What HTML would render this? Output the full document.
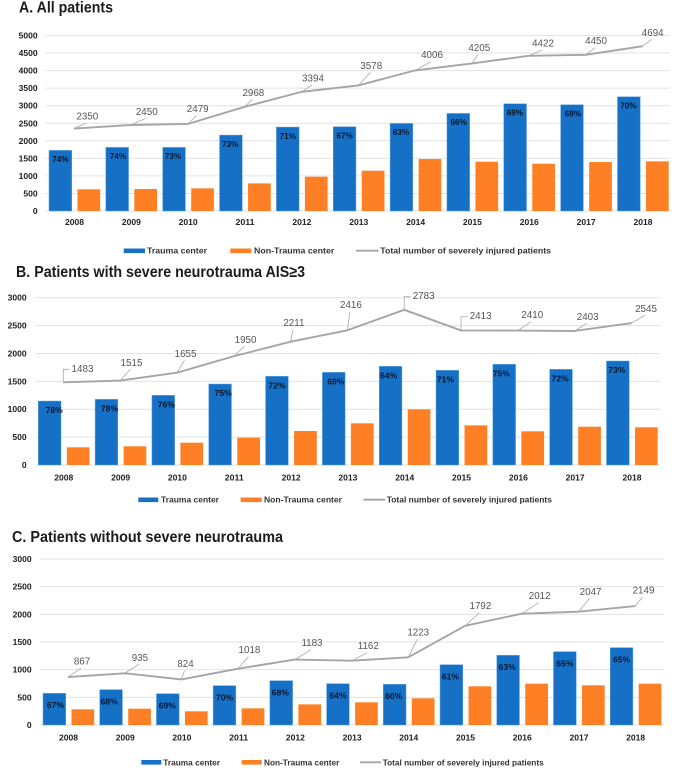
<!DOCTYPE html>
<html lang="en">
<head>
<meta charset="utf-8">
<title>Severely injured patients by trauma center type, 2008-2018</title>
<style>
html,body{margin:0;padding:0;background:#fff;width:676px;height:774px;overflow:hidden}
svg{display:block;filter:blur(0.35px)}
text{font-family:"Liberation Sans",sans-serif}
.title{font-size:16px;font-weight:bold;fill:#1c1c1c;dominant-baseline:central}
.tick{font-size:8.4px;font-weight:bold;fill:#222;dominant-baseline:central}
.legend{font-size:8.6px;font-weight:bold;fill:#333;dominant-baseline:central}
.total{font-size:9.8px;fill:#555;text-anchor:middle;dominant-baseline:central}
.pct{font-size:8.4px;font-weight:bold;fill:#07172c;text-anchor:middle;dominant-baseline:central}
</style>
</head>
<body>
<svg id="figure" xmlns="http://www.w3.org/2000/svg" width="676" height="774" viewBox="0 0 676 774">
  <text class="title" x="19" y="8" textLength="94" lengthAdjust="spacingAndGlyphs">A. All patients</text>
  <g>
    <rect x="123.7" y="248.5" width="21.3" height="4.6" fill="#1570c6"/>
    <text class="legend" x="147" y="250.7" textLength="60" lengthAdjust="spacingAndGlyphs">Trauma center</text>
    <rect x="230.3" y="248.5" width="21" height="4.6" fill="#fe7f24"/>
    <text class="legend" x="254" y="250.7" textLength="80.3" lengthAdjust="spacingAndGlyphs">Non-Trauma center</text>
    <line x1="356" x2="378.7" y1="250.7" y2="250.7" stroke="#a5a5a5" stroke-width="1.8"/>
    <text class="legend" x="380.3" y="250.7" textLength="170.7" lengthAdjust="spacingAndGlyphs">Total number of severely injured patients</text>
  </g>
  <text class="title" x="16" y="272.3" textLength="289" lengthAdjust="spacingAndGlyphs">B. Patients with severe neurotrauma AIS≥3</text>
  <g>
    <rect x="138.3" y="497.5" width="20" height="4.6" fill="#1570c6"/>
    <text class="legend" x="161" y="499.7" textLength="58" lengthAdjust="spacingAndGlyphs">Trauma center</text>
    <rect x="240.7" y="497.5" width="21" height="4.6" fill="#fe7f24"/>
    <text class="legend" x="264" y="499.7" textLength="78" lengthAdjust="spacingAndGlyphs">Non-Trauma center</text>
    <line x1="363.3" x2="385.3" y1="499.7" y2="499.7" stroke="#a5a5a5" stroke-width="1.8"/>
    <text class="legend" x="386.7" y="499.7" textLength="165.3" lengthAdjust="spacingAndGlyphs">Total number of severely injured patients</text>
  </g>
  <text class="title" x="12" y="537.3" textLength="271" lengthAdjust="spacingAndGlyphs">C. Patients without severe neurotrauma</text>
  <g>
    <rect x="141.3" y="760" width="20" height="4.6" fill="#1570c6"/>
    <text class="legend" x="163.3" y="762.3" textLength="56.7" lengthAdjust="spacingAndGlyphs">Trauma center</text>
    <rect x="241.7" y="760" width="20" height="4.6" fill="#fe7f24"/>
    <text class="legend" x="264" y="762.3" textLength="75.3" lengthAdjust="spacingAndGlyphs">Non-Trauma center</text>
    <line x1="360" x2="381" y1="762.3" y2="762.3" stroke="#a5a5a5" stroke-width="1.8"/>
    <text class="legend" x="382.7" y="762.3" textLength="161" lengthAdjust="spacingAndGlyphs">Total number of severely injured patients</text>
  </g>
</svg>
<script>
const categories = ['2008','2009','2010','2011','2012','2013','2014','2015','2016','2017','2018'];

const ticksA = [0,500,1000,1500,2000,2500,3000,3500,4000,4500,5000];
const traumaA = [1727,1812,1812,2163,2391,2400,2495,2780,3055,3027,3254];
const nonTraumaA = [617,626,645,787,977,1148,1480,1404,1347,1395,1414];
const totalA = [2350,2450,2479,2968,3394,3578,4006,4205,4422,4450,4694];
const shareA = ['74%','74%','73%','73%','71%','67%','63%','66%','69%','68%','70%'];

const ticksB = [0,500,1000,1500,2000,2500,3000];
const traumaB = [1147,1177,1249,1452,1590,1661,1769,1697,1805,1715,1865];
const nonTraumaB = [317,335,400,490,610,747,998,711,604,687,675];
const totalB = [1483,1515,1655,1950,2211,2416,2783,2413,2410,2403,2545];
const shareB = ['78%','78%','76%','75%','72%','69%','64%','71%','75%','72%','73%'];

const ticksC = [0,500,1000,1500,2000,2500,3000];
const traumaC = [572,639,566,711,801,747,735,1090,1259,1325,1398];
const nonTraumaC = [283,295,247,301,373,410,482,699,747,717,747];
const totalC = [867,935,824,1018,1183,1162,1223,1792,2012,2047,2149];
const shareC = ['67%','68%','69%','70%','68%','64%','60%','61%','63%','65%','65%'];

const svg = document.getElementById('figure');
const NS = 'http://www.w3.org/2000/svg';

function make(parent, tag, attrs, text) {
  const el = document.createElementNS(NS, tag);
  for (const k in attrs) el.setAttribute(k, attrs[k]);
  if (text !== undefined) el.textContent = text;
  parent.appendChild(el);
  return el;
}

function drawChart(cfg) {
  const yScale = v => cfg.y0 - (v / cfg.yMax) * (cfg.y0 - cfg.yTop);
  const xScale = i => cfg.x0 + cfg.step * i;

  const group = make(svg, 'g', {});
  
  

  cfg.ticks.forEach(t => {
    const grid = make(group, 'line', {x1: cfg.gridL, x2: cfg.gridR, y1: yScale(t), y2: yScale(t), stroke: '#e2e2e2', 'stroke-width': 1});
    
    
    const tick = make(group, 'text', {class: 'tick', x: cfg.tickR, y: yScale(t), 'text-anchor': 'end', textLength: String(t).length * 4.75, lengthAdjust: 'spacingAndGlyphs'}, t);
    
    
  });

  categories.forEach((cat, i) => {
    const c = xScale(i);
    const yTrauma = yScale(cfg.trauma[i]);
    const yNon = yScale(cfg.nonTrauma[i]);
    const blue = make(group, 'rect', {x: c - 25.5, y: yTrauma, width: 22.7, height: cfg.y0 - yTrauma, fill: '#1570c6', stroke: '#5fa2e0', 'stroke-width': 0.5});
    
    
    const orange = make(group, 'rect', {x: c + 3, y: yNon, width: 22.7, height: cfg.y0 - yNon, fill: '#fe7f24'});
    
    
    const pct = make(group, 'text', {class: 'pct', x: c - 14.1 + cfg.pctDx[i], y: yTrauma + cfg.pctDy}, cfg.share[i]);
    pct.style.fontSize = cfg.pctSize + 'px';
    
    
    const year = make(group, 'text', {class: 'tick', x: c, y: cfg.yearY, 'text-anchor': 'middle', textLength: 19, lengthAdjust: 'spacingAndGlyphs'}, cat);
    
    
  });

  const pts = cfg.total.map((v, i) => [xScale(i) - 0.5, yScale(v)]);
  const line = make(group, 'polyline', {points: pts.map(p => p.join(',')).join(' '), fill: 'none', stroke: '#a5a5a5', 'stroke-width': 1.9, 'stroke-linejoin': 'round'});
  
  

  cfg.total.forEach((v, i) => {
    const [px, py] = pts[i];
    const [dx, dy] = cfg.offsets[i];
    const route = cfg.elbows.includes(i)
      ? [[px, py], [px, py + dy], [px + dx - 13, py + dy]]
      : [[px, py], [px + dx - 1, py + dy + 6]];
    const leader = make(group, 'polyline', {points: route.map(p => p.join(',')).join(' '), fill: 'none', stroke: '#a8a8a8', 'stroke-width': 0.8});
    
    
    const label = make(group, 'text', {class: 'total', x: px + dx, y: py + dy}, v);
    
    
  });
}

drawChart({
  id: 'chart-a', ticks: ticksA, trauma: traumaA, nonTrauma: nonTraumaA, total: totalA, share: shareA,
  yMax: 5000, y0: 211, yTop: 35.5, x0: 74.5, step: 56.85, gridL: 45, gridR: 670, tickR: 37.7, yearY: 222,
  pctDy: 9.2, pctSize: 8.2, pctDx: [0,0.7,-1.2,-0.8,0,0,-0.5,0.3,-0.3,0.8,-0.5], elbows: [],
  offsets: [[13.3,-11.5],[15.9,-12.7],[10,-14.7],[8.8,-13.5],[11.6,-12.9],[13,-18.7],[16.9,-14.7],[7.3,-15.1],[14.2,-11.8],[10.4,-13.1],[10.2,-12.9]]
});
drawChart({
  id: 'chart-b', ticks: ticksB, trauma: traumaB, nonTrauma: nonTraumaB, total: totalB, share: shareB,
  yMax: 3000, y0: 465, yTop: 297.7, x0: 63.8, step: 56.82, gridL: 35.7, gridR: 660, tickR: 26.7, yearY: 477.3,
  pctDy: 9, pctSize: 8.6, pctDx: [4.5,3,3,3,0,2,-2,-2,-3,-1,-1], elbows: [0,6,7],
  offsets: [[19.2,-13],[11.4,-17.2],[8.6,-18.4],[11.8,-15.9],[3.3,-18],[3.5,-24.6],[19.4,-13.1],[19.6,-13.7],[14.4,-14.9],[13,-13.7],[14.5,-13.8]]
});
drawChart({
  id: 'chart-c', ticks: ticksC, trauma: traumaC, nonTrauma: nonTraumaC, total: totalC, share: shareC,
  yMax: 3000, y0: 725, yTop: 559, x0: 68.5, step: 56.72, gridL: 40, gridR: 664, tickR: 31.7, yearY: 737.3,
  pctDy: 11.8, pctSize: 8.6, pctDx: [1,-2,-0.5,0,-1,0,-1,-1,-1,0,0], elbows: [],
  offsets: [[14,-15],[15.2,-15],[4.1,-14.7],[11.3,-18],[17.1,-15.8],[16.7,-14],[9.9,-24.3],[15.4,-19.1],[17.9,-17],[12.1,-19.4],[8.3,-15.1]]
});
</script>
</body>
</html>
